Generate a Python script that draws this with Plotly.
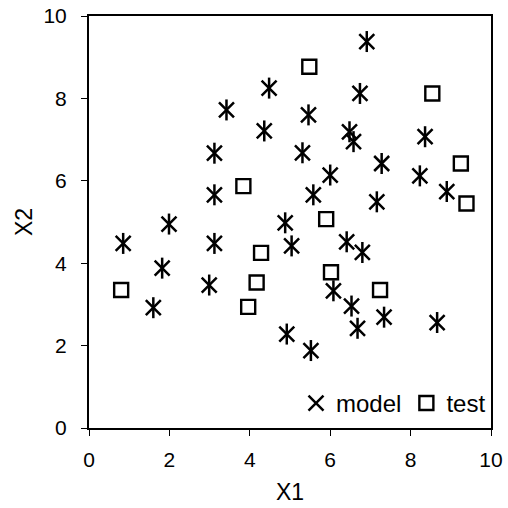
import plotly.graph_objects as go

model_x1 = [0.85, 1.6, 1.82, 1.99, 2.99, 3.12, 3.12, 3.12, 3.42, 4.36, 4.48, 4.88, 4.92, 5.04,
            5.31, 5.46, 5.58, 5.52, 6.0, 6.08, 6.41, 6.48, 6.58, 6.53, 6.74, 6.68, 6.8, 6.91,
            7.16, 7.28, 7.34, 8.23, 8.36, 8.66, 8.9]
model_x2 = [4.48, 2.92, 3.88, 4.95, 3.47, 4.48, 5.66, 6.67, 7.72, 7.21, 8.25, 4.98, 2.28, 4.42,
            6.68, 7.6, 5.66, 1.88, 6.14, 3.33, 4.52, 7.19, 6.95, 2.96, 8.12, 2.42, 4.26, 9.38,
            5.49, 6.42, 2.69, 6.12, 7.07, 2.56, 5.74]
test_x1 = [0.8, 3.84, 3.96, 4.17, 4.28, 5.48, 5.9, 6.02, 7.24, 8.54, 9.25, 9.39]
test_x2 = [3.35, 5.87, 2.94, 3.53, 4.25, 8.77, 5.07, 3.78, 3.35, 8.12, 6.42, 5.45]
tick_vals = [0, 2, 4, 6, 8, 10]

fig = go.Figure()
fig.add_trace(go.Scatter(x=model_x1, y=model_x2, mode="markers", name="model",
                         legendgroup="model",
                         marker=dict(symbol="x-thin-open", size=15, color="black",
                                     line=dict(color="black", width=2.5))))
fig.add_trace(go.Scatter(x=model_x1, y=model_x2, mode="markers", name="model",
                         legendgroup="model", showlegend=False,
                         marker=dict(symbol="line-ns-open", size=15, color="black",
                                     line=dict(color="black", width=2.5))))
fig.add_trace(go.Scatter(x=test_x1, y=test_x2, mode="markers", name="test",
                         marker=dict(symbol="square-open", size=14, color="black",
                                     line=dict(color="black", width=2.4))))

axis_common = dict(range=[0, 10], tickvals=tick_vals, ticks="outside", ticklen=6,
                   tickwidth=1, tickcolor="black", showline=True, linecolor="black",
                   linewidth=2, mirror=True, showgrid=False, zeroline=False,
                   automargin=False, tickfont=dict(size=21, color="black"))
fig.update_xaxes(title=dict(text="X1", font=dict(size=23, color="black"), standoff=14),
                 ticklabelstandoff=6, **axis_common)
fig.update_yaxes(title=dict(text="X2", font=dict(size=23, color="black"), standoff=4),
                 ticklabelstandoff=10, **axis_common)
fig.update_layout(
    width=508, height=508,
    margin=dict(l=89, r=17, t=16, b=80),
    paper_bgcolor="white", plot_bgcolor="white",
    font=dict(family="Liberation Sans, Arial, sans-serif", color="black"),
    legend=dict(orientation="h", x=1.0, xanchor="right", y=0.005, yanchor="bottom",
                bgcolor="rgba(0,0,0,0)", font=dict(size=24), itemwidth=30,
                tracegroupgap=0),
)
fig.write_html("out.html", config={"displayModeBar": False},
               post_script="document.body.style.margin='0';")
